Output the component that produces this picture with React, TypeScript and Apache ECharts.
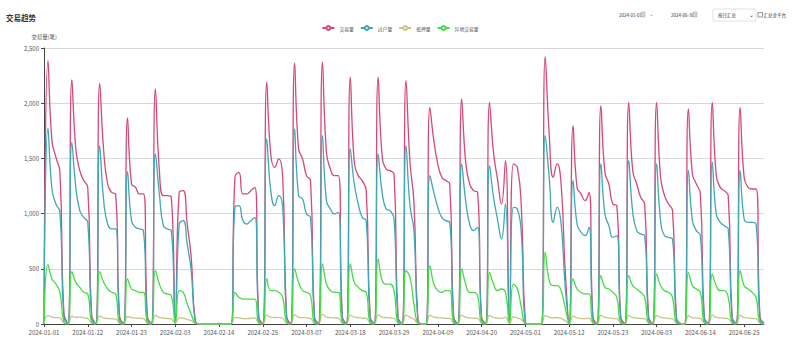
import React, { useEffect, useRef } from "react";
import * as echarts from "echarts";

// 2024-01-01 .. 2024-06-30 (182 days)
function buildDates(): string[] {
  const out: string[] = [];
  const days = [31, 29, 31, 30, 31, 30];
  for (let m = 0; m < 6; m++) {
    for (let d = 1; d <= days[m]; d++) {
      out.push(`2024-${String(m + 1).padStart(2, "0")}-${String(d).padStart(2, "0")}`);
    }
  }
  return out;
}
const categories = buildDates();

const seriesNames = ["交易量", "过户量", "抵押量", "异地交易量"];

const volTrade = [
  0, 2386, 1661, 1510, 1374, 100, 8,
  2211, 1585, 1389, 1299, 1238, 75, 6,
  2180, 1570, 1268, 1193, 1178, 70, 5,
  1866, 1268, 1238, 1178, 1178, 65, 5,
  2129, 1389, 1163, 1163, 1148, 40, 1193,
  1208, 906, 604, 40, 0, 0, 0,
  0, 0, 0, 0, 0, 0, 1329,
  1374, 1178, 1178, 1208, 1238, 60, 5,
  2190, 1540, 1419, 1495, 1329, 70, 6,
  2362, 1586, 1495, 1344, 1299, 60, 5,
  2371, 1555, 1404, 1344, 1344, 70, 5,
  2235, 1465, 1344, 1299, 1208, 65, 5,
  2235, 1525, 1404, 1389, 1359, 60, 5,
  2205, 1465, 1103, 40, 0, 0, 1963,
  1661, 1450, 1329, 1299, 1268, 60, 5,
  2039, 1465, 1268, 1208, 1193, 60, 5,
  2008, 1555, 1314, 1087, 1480, 40, 1450,
  1419, 1057, 20, 0, 0, 0, 0,
  2422, 1721, 1329, 1450, 1268, 500, 5,
  1797, 1238, 1178, 1117, 1193, 60, 5,
  1978, 1374, 1268, 1087, 1072, 60, 5,
  2008, 1389, 1268, 1148, 1087, 60, 5,
  2008, 1329, 1163, 1087, 1027, 60, 5,
  0, 1948, 1359, 1268, 1178, 60, 5,
  2008, 1344, 1238, 1208, 1163, 60, 5,
  1963, 1329, 1238, 1223, 1223, 60, 10,
];

const volTransfer = [
  0, 1773, 1223, 1087, 1012, 60, 5,
  1646, 1238, 1027, 966, 921, 45, 4,
  1616, 1117, 906, 861, 861, 40, 3,
  1380, 936, 876, 861, 846, 40, 3,
  1540, 1178, 891, 861, 846, 25, 906,
  936, 725, 483, 25, 0, 0, 0,
  0, 0, 0, 0, 0, 0, 1057,
  1072, 936, 906, 936, 966, 40, 3,
  1676, 1208, 1072, 1163, 1057, 45, 4,
  1767, 1163, 1133, 997, 966, 40, 3,
  1706, 1117, 1042, 997, 1012, 40, 3,
  1586, 1268, 1087, 966, 936, 40, 3,
  1540, 1193, 1042, 1027, 951, 40, 3,
  1616, 1072, 846, 25, 0, 0, 1344,
  1193, 1057, 966, 936, 921, 40, 3,
  1450, 1117, 906, 846, 876, 40, 3,
  1435, 1148, 951, 770, 1087, 25, 1057,
  1042, 815, 12, 0, 0, 0, 0,
  1706, 1329, 921, 1057, 906, 350, 3,
  1299, 906, 831, 800, 876, 40, 3,
  1450, 997, 891, 785, 800, 40, 3,
  1480, 1012, 846, 815, 800, 40, 3,
  1450, 936, 800, 785, 770, 40, 3,
  0, 1389, 936, 846, 800, 40, 3,
  1465, 997, 921, 891, 861, 40, 3,
  1389, 951, 921, 921, 906, 40, 5,
];

const volMortgage = [
  0, 75, 62, 58, 55, 10, 2,
  70, 60, 62, 56, 50, 8, 2,
  72, 55, 50, 48, 45, 8, 1,
  68, 58, 55, 52, 48, 8, 1,
  78, 60, 52, 50, 46, 6, 55,
  52, 42, 30, 5, 0, 0, 0,
  0, 0, 0, 0, 0, 0, 60,
  55, 50, 48, 52, 55, 8, 1,
  80, 62, 58, 60, 52, 8, 1,
  85, 60, 58, 55, 50, 8, 1,
  88, 62, 58, 55, 52, 8, 1,
  80, 62, 58, 52, 50, 8, 1,
  82, 62, 58, 55, 50, 8, 1,
  80, 60, 45, 5, 0, 0, 78,
  62, 58, 55, 52, 50, 8, 1,
  80, 60, 55, 52, 50, 8, 1,
  78, 60, 55, 50, 62, 5, 65,
  55, 42, 2, 0, 0, 0, 0,
  75, 62, 55, 58, 50, 30, 1,
  72, 55, 50, 48, 52, 8, 1,
  80, 60, 55, 50, 48, 8, 1,
  78, 58, 55, 50, 48, 8, 1,
  78, 60, 55, 50, 48, 8, 1,
  0, 75, 58, 55, 50, 8, 1,
  80, 60, 55, 52, 48, 8, 1,
  78, 58, 55, 50, 48, 8, 1,
];

const volRemote = [
  0, 538, 408, 362, 287, 20, 2,
  474, 377, 332, 287, 272, 15, 2,
  474, 377, 317, 287, 272, 12, 2,
  408, 317, 302, 287, 287, 12, 2,
  483, 362, 287, 272, 257, 10, 302,
  287, 181, 91, 10, 0, 0, 0,
  0, 0, 8, 0, 0, 0, 287,
  242, 226, 226, 226, 226, 12, 2,
  408, 302, 302, 287, 242, 15, 2,
  498, 377, 302, 287, 257, 12, 2,
  544, 362, 302, 287, 287, 15, 2,
  544, 377, 332, 302, 287, 12, 2,
  589, 393, 362, 362, 302, 12, 2,
  483, 423, 181, 10, 0, 0, 528,
  362, 302, 287, 302, 302, 12, 2,
  498, 362, 287, 287, 257, 12, 2,
  468, 362, 302, 317, 287, 10, 362,
  317, 151, 5, 0, 0, 0, 0,
  649, 393, 347, 347, 302, 150, 2,
  408, 317, 287, 272, 272, 12, 2,
  438, 332, 317, 287, 242, 12, 2,
  438, 347, 317, 287, 242, 12, 2,
  453, 347, 302, 287, 242, 12, 2,
  0, 468, 347, 317, 287, 12, 2,
  453, 347, 302, 302, 242, 12, 2,
  483, 347, 317, 287, 242, 15, 3,
];

const yTicks = [0, 500, 1000, 1500, 2000, 2500];
const colors = ["#d6477c", "#3fa8b4", "#c9c48c", "#45dc45"];

export default function App() {
  const ref = useRef<HTMLDivElement>(null);
  useEffect(() => {
    document.body.style.margin = "0";
    if (!ref.current) return;
    const chart = echarts.init(ref.current, undefined, { renderer: "svg" });
    const dataSets = [volTrade, volTransfer, volMortgage, volRemote];
    const txt = (x: number, y: number, text: string, extra: any = {}) => ({
      type: "text",
      x,
      y,
      style: { text, fontSize: 4.5, fill: "#333", verticalAlign: "middle", fontFamily: "'Noto Sans CJK SC', sans-serif", ...extra },
    });
    chart.setOption({
      animation: false,
      color: colors,
      textStyle: { fontFamily: "'Noto Sans CJK SC', 'Noto Sans', sans-serif" },
      title: {
        text: "交易趋势",
        left: 1,
        top: 9,
        textStyle: { fontSize: 7.5, fontWeight: "bold", color: "#333" },
      },
      legend: {
        data: seriesNames,
        top: 20,
        left: "center",
        itemWidth: 12,
        itemHeight: 5,
        itemGap: 6,
        textStyle: { fontSize: 4.8, color: "#555" },
      },
      grid: { left: 44, right: 36, top: 48, bottom: 30 },
      xAxis: {
        type: "category",
        data: categories,
        boundaryGap: false,
        axisLine: { lineStyle: { color: "#444" } },
        axisTick: { interval: 10, length: 3, lineStyle: { color: "#444" } },
        axisLabel: { interval: 10, fontSize: 6, color: "#555", margin: 5 },
      },
      yAxis: {
        type: "value",
        min: yTicks[0],
        max: yTicks[yTicks.length - 1],
        interval: 500,
        name: "交易量(笔)",
        nameGap: 8,
        nameTextStyle: { fontSize: 5.5, color: "#555" },
        axisLine: { show: true, lineStyle: { color: "#444" } },
        axisTick: { show: true, length: 3, lineStyle: { color: "#444" } },
        axisLabel: {
          fontSize: 6,
          color: "#555",
          margin: 5,
          formatter: (v: number) => v.toLocaleString("en-US"),
        },
        splitLine: { lineStyle: { color: "#d8d8d8" } },
      },
      series: seriesNames.map((name, i) => ({
        name,
        type: "line",
        smooth: true,
        data: dataSets[i],
        symbol: "emptyCircle",
        showSymbol: false,
        symbolSize: 4,
        itemStyle: { borderWidth: 1 },
        lineStyle: { width: 1.3 },
      })),
      graphic: [
        txt(619, 15, "2024-01-01"),
        { type: "rect", shape: { x: 641, y: 12, width: 4, height: 5 }, style: { fill: "#cfd6e0", stroke: "#9aa", lineWidth: 0.5 } },
        txt(650, 15, "~"),
        txt(671, 15, "2024-06-30"),
        { type: "rect", shape: { x: 693, y: 12, width: 4, height: 5 }, style: { fill: "#cfd6e0", stroke: "#9aa", lineWidth: 0.5 } },
        { type: "rect", shape: { x: 713, y: 9, width: 43, height: 12, r: 1 }, style: { fill: "#fff", stroke: "#ccc", lineWidth: 0.6 } },
        txt(718, 15, "按日汇总"),
        txt(749, 14, "⌄", { fontSize: 6 }),
        { type: "rect", shape: { x: 758, y: 12.5, width: 4.5, height: 4.5 }, style: { fill: "#fff", stroke: "#555", lineWidth: 0.6 } },
        txt(763.5, 15, "汇总全平台"),
      ],
    });
    return () => chart.dispose();
  }, []);
  return <div ref={ref} style={{ width: 800, height: 354 }} />;
}
